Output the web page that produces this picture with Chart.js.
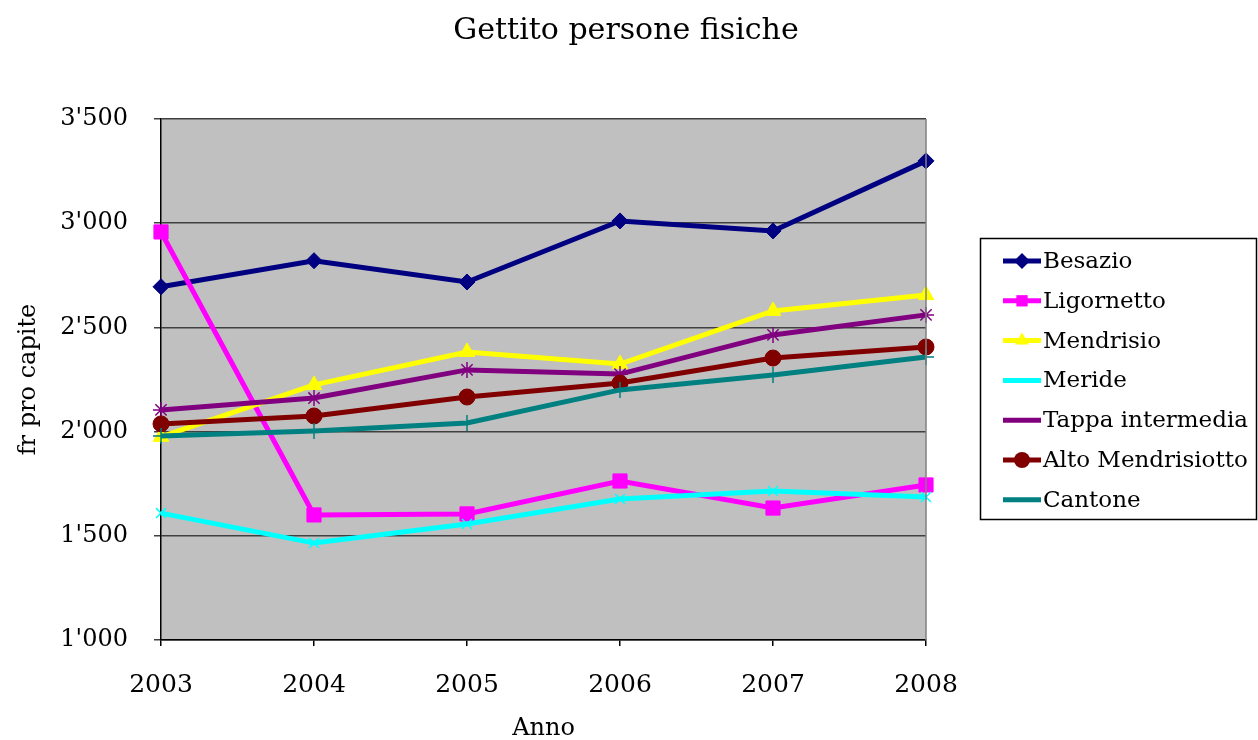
<!DOCTYPE html>
<html lang="it">
<head>
<meta charset="UTF-8">
<title>Gettito persone fisiche</title>
<script src="https://cdn.jsdelivr.net/npm/chart.js"></script>
<style>
  html, body { margin: 0; padding: 0; background: #fff; }
  #wrap { position: relative; width: 1258px; height: 740px; }
</style>
</head>
<body>
<div id="wrap"><canvas id="chart"></canvas></div>
<script>
// data
const years = ['2003', '2004', '2005', '2006', '2007', '2008'];
const besazio    = [2695, 2820, 2718, 3011, 2963, 3299];
const ligornetto = [2958, 1600, 1605, 1763, 1633, 1744];
const mendrisio  = [1975, 2224, 2382, 2324, 2579, 2655];
const meride     = [1609, 1465, 1557, 1677, 1715, 1686];
const tappa      = [2104, 2161, 2296, 2276, 2464, 2560];
const altoMendr  = [2037, 2075, 2166, 2233, 2353, 2406];
const cantone    = [1979, 2003, 2041, 2200, 2272, 2358];

const seriesNames = ['Besazio', 'Ligornetto', 'Mendrisio', 'Meride', 'Tappa intermedia', 'Alto Mendrisiotto', 'Cantone'];
const seriesData = [besazio, ligornetto, mendrisio, meride, tappa, altoMendr, cantone];
const colors = ['#000080', '#FF00FF', '#FFFF00', '#00FFFF', '#800080', '#800000', '#008080'];
const markers = ['rectRot', 'rect', 'triangle', 'crossRot', 'star', 'circle', 'cross'];
const radii = [8, 10, 9, 7, 8, 8, 8];

const FONT = "'DejaVu Serif', serif";

const datasets = seriesNames.map((name, i) => ({
  label: name,
  data: seriesData[i],
  borderColor: colors[i],
  backgroundColor: colors[i],
  borderWidth: 5,
  pointStyle: markers[i],
  pointRadius: radii[i],
  pointBorderWidth: (markers[i] === 'cross' || markers[i] === 'crossRot' || markers[i] === 'star') ? 1.5 : 1,
  pointBorderColor: colors[i],
  pointBackgroundColor: colors[i],
  tension: 0,
  order: seriesNames.length - i   // later series on top, like Excel
}));

// grey plot background, right border, title and boxed legend
const decor = {
  id: 'decor',
  beforeDraw(chart) {
    const { ctx, chartArea: a } = chart;
    ctx.save();
    ctx.fillStyle = '#C0C0C0';
    ctx.fillRect(a.left, a.top, a.right - a.left, a.bottom - a.top);
    ctx.restore();
  },
  afterDraw(chart) {
    const { ctx, chartArea: a } = chart;
    ctx.save();
    // right border of the plot
    ctx.strokeStyle = '#808080';
    ctx.lineWidth = 1.5;
    ctx.beginPath();
    ctx.moveTo(a.right, a.top);
    ctx.lineTo(a.right, a.bottom);
    ctx.stroke();

    // title
    ctx.fillStyle = '#000';
    ctx.font = '30px ' + FONT;
    ctx.textAlign = 'center';
    ctx.textBaseline = 'middle';
    ctx.fillText('Gettito persone fisiche', 626, 31);

    // legend box
    ctx.strokeStyle = '#000';
    ctx.lineWidth = 1.5;
    ctx.strokeRect(980.5, 238.5, 276, 281);
    ctx.font = '23px ' + FONT;
    ctx.textAlign = 'left';
    chart.data.datasets.forEach((ds, i) => {
      const y = 261 + i * 39.8;
      ctx.strokeStyle = ds.borderColor;
      ctx.lineWidth = 5;
      ctx.beginPath();
      ctx.moveTo(1003, y);
      ctx.lineTo(1041, y);
      ctx.stroke();
      ctx.fillStyle = ds.pointBackgroundColor;
      ctx.strokeStyle = ds.pointBorderColor;
      ctx.lineWidth = ds.pointBorderWidth;
      Chart.helpers.drawPoint(ctx, { pointStyle: ds.pointStyle, radius: Math.min(ds.pointRadius, 8), rotation: 0 }, 1022, y);
      ctx.fillStyle = '#000';
      ctx.fillText(ds.label, 1043, y + 1);
    });
    ctx.restore();
  }
};

const chart = new Chart(document.getElementById('chart'), {
  type: 'line',
  data: { labels: years, datasets: datasets },
  plugins: [decor],
  options: {
    responsive: true,
    maintainAspectRatio: false,
    animation: false,
    layout: { padding: { top: 119, right: 332, bottom: 0, left: 0 } },
    plugins: {
      legend: { display: false },
      title: { display: false },
      tooltip: { enabled: false }
    },
    scales: {
      x: {
        offset: false,
        afterFit(scale) { scale.height = 100; },
        grid: { drawOnChartArea: false, drawTicks: true, tickLength: 6, color: '#000', lineWidth: 1.5 },
        border: { display: true, color: '#000', width: 1.5 },
        ticks: { color: '#000', font: { family: FONT, size: 25 }, padding: 24, maxRotation: 0 },
        title: { display: true, text: 'Anno', color: '#000', font: { family: FONT, size: 24 }, padding: { top: 0, bottom: -3 } }
      },
      y: {
        min: 1000,
        max: 3500,
        afterFit(scale) { scale.width = 161; },
        grid: { color: '#404040', lineWidth: 1.5, tickLength: 7, drawTicks: true },
        border: { display: true, color: '#000', width: 1.5 },
        ticks: {
          stepSize: 500,
          color: '#000',
          font: { family: FONT, size: 24 },
          padding: 26,
          callback: v => {
            const s = String(v);
            return s.length > 3 ? s.slice(0, s.length - 3) + "'" + s.slice(-3) : s;
          }
        },
        title: { display: true, text: 'fr pro capite', color: '#000', font: { family: FONT, size: 24 }, padding: { top: 14, bottom: 0 } }
      }
    }
  }
});
</script>
</body>
</html>
